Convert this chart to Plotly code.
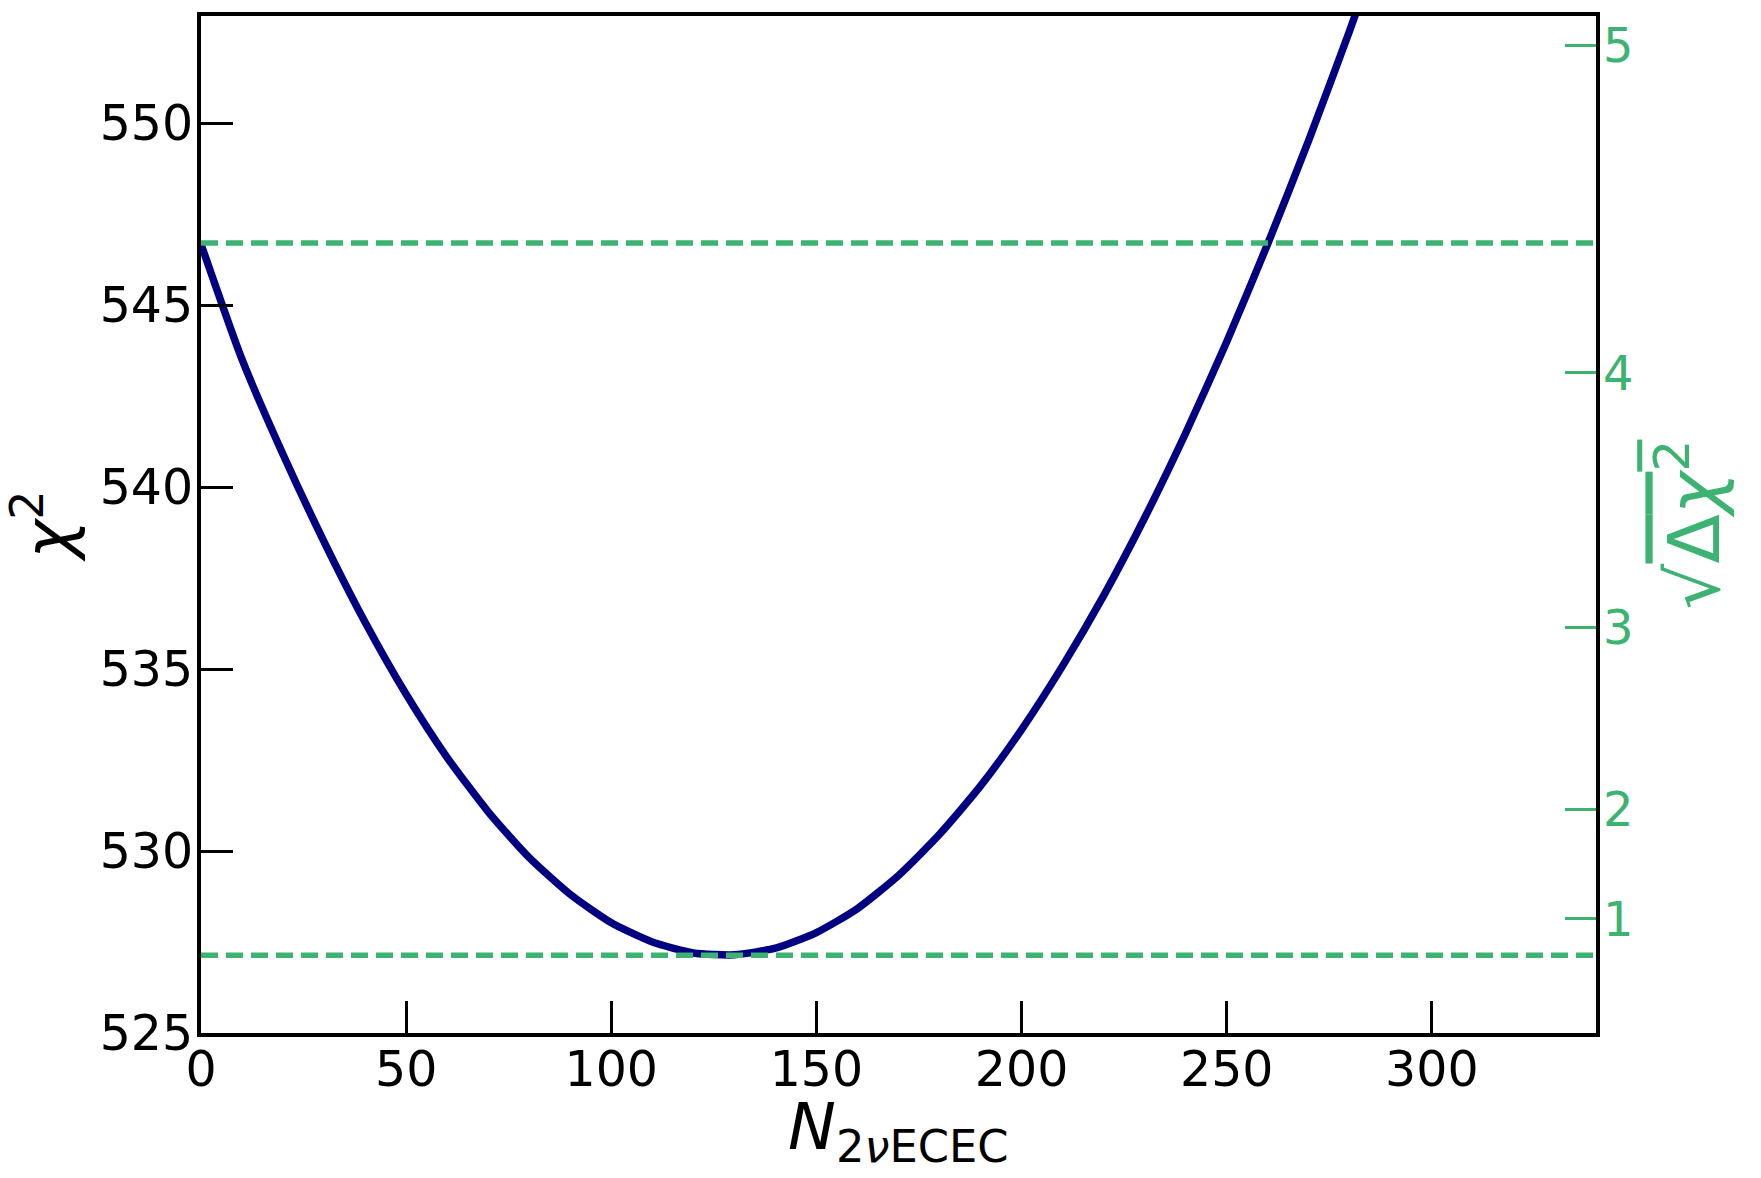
import plotly.graph_objects as go

# ---- data (values along the curve) ----
n_events = [0, 10, 20, 30, 40, 50, 60, 70, 80, 90, 100, 110, 120, 130, 140,
            150, 160, 170, 180, 190, 200, 210, 220, 230, 240, 250, 260, 270, 280, 290]
chi2 = [546.68, 543.51, 540.90, 538.50, 536.29, 534.31, 532.57, 531.08, 529.82, 528.81,
        528.03, 527.50, 527.20, 527.15, 527.33, 527.76, 528.42, 529.33, 530.46, 531.79,
        533.34, 535.09, 537.02, 539.16, 541.49, 544.00, 546.69, 549.54, 552.56, 555.73]
chi2_null = 546.71      # upper dashed line (chi2 at N = 0)
chi2_best = 527.14      # lower dashed line (best-fit minimum)
sigma_ticks = [1, 2, 3, 4, 5]
x_ticks = [0, 50, 100, 150, 200, 250, 300]
y_ticks = [525, 530, 535, 540, 545, 550]
x_range = [0, 340]
y_range = [525, 552.95]

NAVY = "#000080"
GREEN = "#3CB371"
FONT = "DejaVu Sans"

fig = go.Figure()
fig.add_trace(go.Scatter(x=n_events, y=chi2, mode="lines",
                         line=dict(color=NAVY, width=7.5, shape="spline", smoothing=0.6),
                         showlegend=False))
for yv in (chi2_null, chi2_best):
    fig.add_trace(go.Scatter(x=x_range, y=[yv, yv], mode="lines",
                             line=dict(color=GREEN, width=5.5, dash="17px,8px"),
                             showlegend=False))
# invisible trace on the secondary axis so it is drawn
fig.add_trace(go.Scatter(x=x_range, y=y_range, mode="lines", yaxis="y2",
                         line=dict(width=0), opacity=0, hoverinfo="skip",
                         showlegend=False))

fig.update_layout(
    width=1761, height=1178,
    margin=dict(l=201, r=165, t=16, b=145),
    paper_bgcolor="white", plot_bgcolor="white",
    font=dict(family=FONT, color="black"),
    xaxis=dict(range=x_range, tickvals=x_ticks, ticks="inside", ticklen=32,
               tickwidth=3, tickcolor="black", showline=True, linewidth=4,
               linecolor="black", mirror=True, showgrid=False, zeroline=False,
               tickfont=dict(size=49, family=FONT, color="black"),
               ticklabelstandoff=-10),
    yaxis=dict(range=y_range, tickvals=y_ticks, ticks="inside", ticklen=32,
               tickwidth=3, tickcolor="black", showline=True, linewidth=4,
               linecolor="black", mirror=True, showgrid=False, zeroline=False,
               tickfont=dict(size=49, family=FONT, color="black"),
               ticklabelstandoff=-6,
               title=dict(text="<i>χ</i><sup>2</sup>",
                          font=dict(size=66, family=FONT, color="black"),
                          standoff=14)),
    yaxis2=dict(overlaying="y", side="right", range=y_range,
                tickvals=[chi2_best + s * s for s in sigma_ticks],
                ticktext=[str(s) for s in sigma_ticks],
                ticks="inside", ticklen=31, tickwidth=3, tickcolor=GREEN,
                showline=False, showgrid=False, zeroline=False,
                ticklabelstandoff=6,
                tickfont=dict(size=48, family=FONT, color=GREEN),
                title=dict(text="√<span style='text-decoration:overline'>Δ<i>χ</i><sup>2</sup></span>",
                           font=dict(size=72, family=FONT, color=GREEN),
                           standoff=36)),
    annotations=[dict(text="<i>N</i><sub>2<i>ν</i>ECEC</sub>", xref="paper", yref="paper",
                      x=0.5, y=-0.097, xanchor="center", yanchor="middle",
                      showarrow=False,
                      font=dict(size=64, family=FONT, color="black"))],
)

fig.write_html("out.html")
